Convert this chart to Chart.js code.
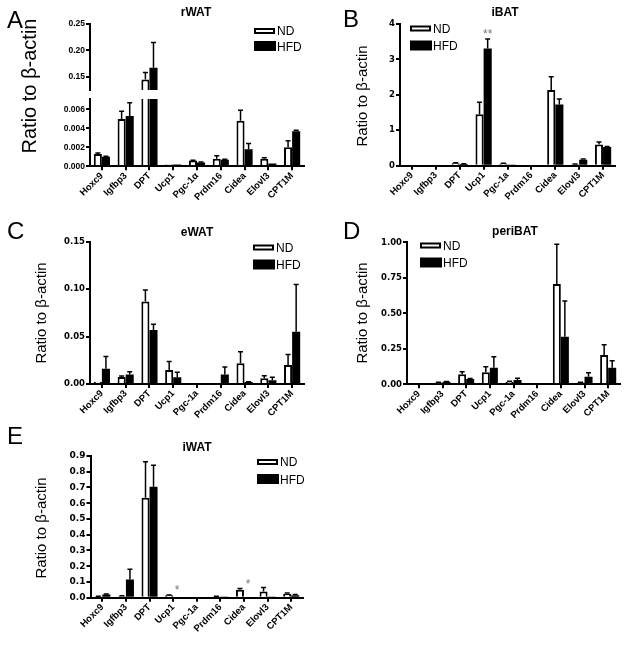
<!DOCTYPE html>
<html>
<head>
<meta charset="utf-8">
<script src="https://cdn.jsdelivr.net/npm/chart.js@4.4.1/dist/chart.umd.min.js"></script>
<style>
  html, body { margin: 0; padding: 0; background: #fff; }
  #fig { position: relative; width: 629px; height: 645px; overflow: hidden; }
  #fig canvas { position: absolute; }
</style>
</head>
<body>
<div id="fig"></div>
<script>
/* ---------- categories ---------- */
const genesA = ['Hoxc9', 'Igfbp3', 'DPT', 'Ucp1', 'Pgc-1\u03b1', 'Prdm16', 'Cidea', 'Elovl3', 'CPT1M'];
const genes  = ['Hoxc9', 'Igfbp3', 'DPT', 'Ucp1', 'Pgc-1a', 'Prdm16', 'Cidea', 'Elovl3', 'CPT1M'];

/* ---------- A: rWAT (broken axis) ---------- */
const rWAT_ND      = [0.0013, 0.0050, 0.145, 0.0002, 0.0006, 0.0008, 0.0048, 0.0008, 0.0020];
const rWAT_ND_err  = [0.0001, 0.0008, 0.013, 0, 0.00005, 0.0003, 0.0011, 0.0001, 0.0007];
const rWAT_HFD     = [0.0010, 0.0053, 0.167, 0.0002, 0.0004, 0.0007, 0.0018, 0.0003, 0.0037];
const rWAT_HFD_err = [0.00005, 0.0014, 0.048, 0, 0.00005, 0.00005, 0.0006, 0, 0.0001];
const rWAT_topTicks = [0.15, 0.20, 0.25];
const rWAT_lowTicks = [0, 0.002, 0.004, 0.006];

/* ---------- B: iBAT ---------- */
const iBAT_ND      = [0, 0, 0.07, 1.45, 0.06, 0, 2.14, 0.04, 0.60];
const iBAT_ND_err  = [0, 0, 0.01, 0.34, 0.01, 0, 0.37, 0.01, 0.07];
const iBAT_HFD     = [0, 0, 0.05, 3.31, 0.02, 0, 1.73, 0.17, 0.53];
const iBAT_HFD_err = [0, 0, 0.005, 0.27, 0, 0, 0.15, 0.02, 0.01];
const iBAT_ticks   = [0, 1, 2, 3, 4];
const iBAT_stars   = [{ gene: 'Ucp1', series: 1, y: 3.8, text: '**' }];

/* ---------- C: eWAT ---------- */
const eWAT_ND      = [0.0025, 0.0075, 0.087, 0.0148, 0.001, 0.001, 0.022, 0.006, 0.020];
const eWAT_ND_err  = [0, 0.001, 0.012, 0.009, 0, 0, 0.012, 0.0028, 0.011];
const eWAT_HFD     = [0.016, 0.010, 0.057, 0.007, 0.001, 0.010, 0.002, 0.004, 0.055];
const eWAT_HFD_err = [0.013, 0.003, 0.006, 0.0053, 0, 0.008, 0.0005, 0.003, 0.050];
const eWAT_ticks   = [0, 0.05, 0.10, 0.15];

/* ---------- D: periBAT ---------- */
const periBAT_ND      = [0, 0.012, 0.07, 0.085, 0.018, 0, 0.706, 0.012, 0.206];
const periBAT_ND_err  = [0, 0.002, 0.018, 0.039, 0.003, 0, 0.28, 0.002, 0.072];
const periBAT_HFD     = [0, 0.018, 0.037, 0.117, 0.030, 0, 0.335, 0.054, 0.117];
const periBAT_HFD_err = [0, 0.002, 0.003, 0.077, 0.012, 0, 0.252, 0.028, 0.049];
const periBAT_ticks   = [0, 0.25, 0.50, 0.75, 1.00];

/* ---------- E: iWAT ---------- */
const iWAT_ND      = [0.008, 0.010, 0.635, 0.015, 0, 0.007, 0.050, 0.040, 0.025];
const iWAT_ND_err  = [0.002, 0.002, 0.228, 0.002, 0, 0.002, 0.008, 0.025, 0.005];
const iWAT_HFD     = [0.020, 0.116, 0.704, 0, 0, 0.003, 0, 0.003, 0.016];
const iWAT_HFD_err = [0.003, 0.064, 0.137, 0, 0, 0, 0, 0, 0.004];
const iWAT_ticks   = [0, 0.1, 0.2, 0.3, 0.4, 0.5, 0.6, 0.7, 0.8, 0.9];
const iWAT_stars   = [
  { gene: 'Ucp1', series: 1, y: 0.07, text: '*' },
  { gene: 'Cidea', series: 1, y: 0.108, text: '*' }
];

const F = "'Liberation Sans', Arial, Helvetica, sans-serif";
const FW = "'DejaVu Sans', Verdana, sans-serif";   // wider face for the stretched tick labels
const fig = document.getElementById('fig');

/* one-sided SEM bars, drawn from the bar value through the y scale */
const errorBars = {
  id: 'errorBars',
  afterDatasetsDraw(chart) {
    const { ctx, chartArea: a, scales: { y } } = chart;
    ctx.save();
    ctx.beginPath();
    ctx.rect(a.left, a.top, a.right - a.left, a.bottom - a.top);
    ctx.clip();
    ctx.strokeStyle = '#000';
    ctx.lineWidth = 1.5;
    chart.data.datasets.forEach((ds, i) => {
      chart.getDatasetMeta(i).data.forEach((bar, j) => {
        const e = ds.errors[j];
        if (!e) return;
        const y0 = y.getPixelForValue(ds.data[j]);
        const y1 = y.getPixelForValue(ds.data[j] + e);
        ctx.beginPath();
        ctx.moveTo(bar.x, y0); ctx.lineTo(bar.x, y1);
        ctx.moveTo(bar.x - 2.5, y1); ctx.lineTo(bar.x + 2.5, y1);
        ctx.stroke();
      });
    });
    ctx.restore();
  }
};

/* panel letter, title, y label, legend and significance marks */
function decor(o) {
  return {
    id: 'decor',
    afterDraw(chart) {
      const ctx = chart.ctx;
      const [bl, bt] = o.box;
      ctx.save();
      ctx.fillStyle = '#000';
      ctx.textBaseline = 'alphabetic';
      if (o.letter) {
        ctx.font = `24px ${F}`;
        ctx.textAlign = 'left';
        ctx.fillText(o.letter.text, o.letter.x - bl, o.letter.y - bt);
      }
      if (o.title) {
        ctx.font = `bold 12px ${F}`;
        ctx.textAlign = 'center';
        ctx.fillText(o.title.text, o.title.x - bl, o.title.y - bt);
      }
      if (o.ylabel) {
        ctx.save();
        ctx.translate(o.ylabel.x - bl, o.ylabel.y - bt);
        ctx.rotate(-Math.PI / 2);
        ctx.font = `${o.ylabel.size}px ${F}`;
        ctx.textAlign = 'center';
        ctx.textBaseline = 'middle';
        ctx.fillText('Ratio to \u03b2-actin', 0, 0);
        ctx.restore();
      }
      if (o.legend) {
        const lg = o.legend;
        const [nd, hfd] = chart.data.datasets;
        const x = lg.x - bl;
        // ND: open bar
        let y = lg.y - bt;
        ctx.fillStyle = nd.borderColor;
        ctx.fillRect(x, y, 21, 6);
        ctx.fillStyle = nd.backgroundColor;
        ctx.fillRect(x + 2, y + 2, 17, 2);
        ctx.fillStyle = '#000';
        ctx.font = `12px ${F}`;
        ctx.textAlign = 'left';
        ctx.fillText(nd.label, x + 23, y + 7);
        // HFD: filled bar
        y = lg.y - bt + lg.gap;
        ctx.fillStyle = hfd.backgroundColor;
        ctx.fillRect(x, y, 22, 10);
        ctx.fillStyle = '#000';
        ctx.fillText(hfd.label, x + 23, y + 9.5);
      }
      if (o.stars) {
        ctx.fillStyle = '#777';
        ctx.font = `12px ${F}`;
        ctx.textAlign = 'center';
        o.stars.forEach(s => {
          const idx = chart.data.labels.indexOf(s.gene);
          const bar = chart.getDatasetMeta(s.series).data[idx];
          ctx.fillText(s.text, bar.x, chart.scales.y.getPixelForValue(s.y) + 7);
        });
      }
      ctx.restore();
    }
  };
}

function panel(o) {
  const [bl, bt, bw, bh] = o.box;
  const [L, T, R, B] = o.area;
  const showX = o.showX !== false;
  const c = document.createElement('canvas');
  c.width = bw; c.height = bh;
  c.style.left = bl + 'px'; c.style.top = bt + 'px';
  c.style.width = bw + 'px'; c.style.height = bh + 'px';
  fig.appendChild(c);

  return new Chart(c, {
    type: 'bar',
    data: {
      labels: o.labels,
      datasets: [
        { label: 'ND', data: o.nd, errors: o.ndErr, backgroundColor: '#fff', borderColor: '#000', borderWidth: 2, clip: 0 },
        { label: 'HFD', data: o.hfd, errors: o.hfdErr, backgroundColor: '#000', borderColor: '#000', borderWidth: 0, clip: 0 }
      ]
    },
    options: {
      responsive: false,
      animation: false,
      devicePixelRatio: 1,
      categoryPercentage: 0.68,
      barPercentage: 1.0,
      layout: { padding: { left: 0, top: T - bt, right: bl + bw - R, bottom: showX ? 0 : bt + bh - B } },
      plugins: { legend: { display: false }, tooltip: { enabled: false } },
      scales: {
        x: {
          display: showX,
          offset: true,
          afterFit: s => { s.height = showX ? bt + bh - B : 0; },
          border: { display: true, color: '#000', width: 2 },
          grid: { offset: false, drawOnChartArea: false, drawTicks: true, tickLength: 4, color: '#000', lineWidth: 2 },
          ticks: {
            autoSkip: false, maxRotation: 45, minRotation: 45, padding: 0, color: '#000',
            font: { family: F, size: 9.5, weight: 'bold' }
          }
        },
        y: {
          min: o.min,
          max: o.max,
          afterBuildTicks: s => { s.ticks = o.ticks.map(v => ({ value: v })); },
          afterFit: s => { s.width = L - bl; },
          border: { display: true, color: '#000', width: 2 },
          grid: { drawOnChartArea: false, drawTicks: true, tickLength: 4, color: '#000', lineWidth: 2 },
          ticks: {
            padding: 1, color: '#000',
            font: { family: o.tickFont || FW, size: o.tickSize || 8.5, weight: 'bold' },
            callback: v => Number(v).toFixed(o.dec)
          }
        }
      }
    },
    plugins: [errorBars, decor(o)]
  });
}

/* A - upper segment of the broken axis */
panel({
  box: [0, 0, 315, 212], area: [90, 24, 304, 90], showX: false,
  labels: genesA, nd: rWAT_ND, ndErr: rWAT_ND_err, hfd: rWAT_HFD, hfdErr: rWAT_HFD_err,
  min: 0.125, max: 0.25, ticks: rWAT_topTicks, dec: 2, tickFont: F, tickSize: 8.5,
  letter: { text: 'A', x: 7, y: 28 },
  title: { text: 'rWAT', x: 196, y: 16 },
  legend: { x: 254, y: 28, gap: 13 }
});
/* A - lower segment */
panel({
  box: [0, 0, 315, 212], area: [90, 99, 304, 166.3],
  labels: genesA, nd: rWAT_ND, ndErr: rWAT_ND_err, hfd: rWAT_HFD, hfdErr: rWAT_HFD_err,
  min: 0, max: 0.0071, ticks: rWAT_lowTicks, dec: 3, tickFont: F, tickSize: 8.5,
  ylabel: { x: 30, y: 86, size: 20 }
});
/* B */
panel({
  box: [315, 0, 314, 212], area: [400, 24, 615, 165.7],
  labels: genes, nd: iBAT_ND, ndErr: iBAT_ND_err, hfd: iBAT_HFD, hfdErr: iBAT_HFD_err,
  min: 0, max: 4, ticks: iBAT_ticks, dec: 0,
  letter: { text: 'B', x: 343, y: 27 },
  title: { text: 'iBAT', x: 505, y: 16 },
  ylabel: { x: 363, y: 96, size: 15 },
  legend: { x: 410, y: 25.5, gap: 15 },
  stars: iBAT_stars
});
/* C */
panel({
  box: [0, 212, 315, 214], area: [90, 241.7, 304, 384],
  labels: genes, nd: eWAT_ND, ndErr: eWAT_ND_err, hfd: eWAT_HFD, hfdErr: eWAT_HFD_err,
  min: 0, max: 0.15, ticks: eWAT_ticks, dec: 2,
  letter: { text: 'C', x: 7, y: 239 },
  title: { text: 'eWAT', x: 197, y: 236 },
  ylabel: { x: 42, y: 313, size: 15 },
  legend: { x: 253, y: 244.5, gap: 15 }
});
/* D */
panel({
  box: [315, 212, 314, 214], area: [407, 242.3, 620, 384.3],
  labels: genes, nd: periBAT_ND, ndErr: periBAT_ND_err, hfd: periBAT_HFD, hfdErr: periBAT_HFD_err,
  min: 0, max: 1, ticks: periBAT_ticks, dec: 2,
  letter: { text: 'D', x: 343, y: 239 },
  title: { text: 'periBAT', x: 515, y: 235 },
  ylabel: { x: 363, y: 313, size: 15 },
  legend: { x: 420, y: 242.5, gap: 15 }
});
/* E */
panel({
  box: [0, 426, 315, 219], area: [90.5, 456, 303, 597.7],
  labels: genes, nd: iWAT_ND, ndErr: iWAT_ND_err, hfd: iWAT_HFD, hfdErr: iWAT_HFD_err,
  min: 0, max: 0.9, ticks: iWAT_ticks, dec: 1, tickSize: 9,
  letter: { text: 'E', x: 7, y: 444 },
  title: { text: 'iWAT', x: 197, y: 451 },
  ylabel: { x: 42, y: 528, size: 15 },
  legend: { x: 257, y: 459, gap: 15 },
  stars: iWAT_stars
});
</script>
</body>
</html>
